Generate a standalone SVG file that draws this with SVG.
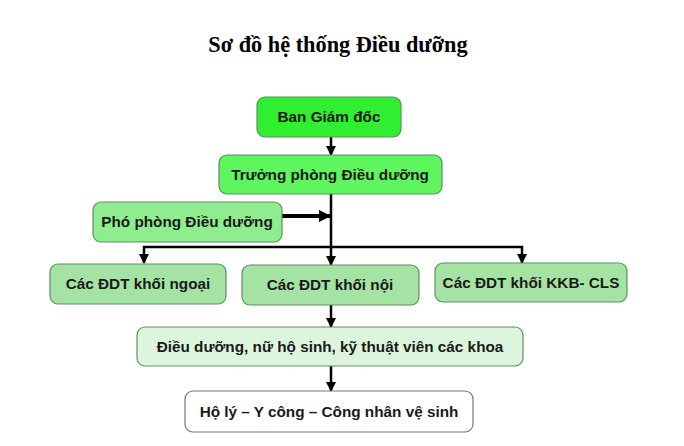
<svg xmlns="http://www.w3.org/2000/svg" width="684" height="446" viewBox="0 0 684 446">
<style>
.box{stroke:#5f8f5f;stroke-width:1.2}
.lbl{font-family:"Liberation Sans",Arial,sans-serif;font-weight:bold;font-size:15.3px;fill:#1a1a1a;text-anchor:middle}
.title{font-family:"Liberation Serif","Times New Roman",serif;font-weight:bold;font-size:22.3px;fill:#000;text-anchor:middle}
.con{fill:none;stroke:#000;stroke-width:2.5}
</style>
<defs>
<marker id="ah" markerUnits="userSpaceOnUse" markerWidth="10" markerHeight="10" refX="9" refY="5" orient="auto">
<path d="M0,0 L10,5 L0,10 z" fill="#000"/>
</marker>
<marker id="ahb" markerUnits="userSpaceOnUse" markerWidth="12" markerHeight="12" refX="11" refY="6" orient="auto">
<path d="M0,0 L12,6 L0,12 z" fill="#000"/>
</marker>
</defs>
<rect width="684" height="446" fill="#fff"/>
<text class="title" x="338" y="52">Sơ đồ hệ thống Điều dưỡng</text>
<g id="connectors">
<path class="con" d="M331,137 V155" marker-end="url(#ah)"/>
<path class="con" d="M331,194 V265" marker-end="url(#ah)"/>
<path class="con" style="stroke-width:4" d="M282,216 H330" marker-end="url(#ahb)"/>
<path class="con" d="M331,247 H144 V263" marker-end="url(#ah)"/>
<path class="con" d="M331,247 H522 V263" marker-end="url(#ah)"/>
<path class="con" d="M331,305 V327" marker-end="url(#ah)"/>
<path class="con" d="M331,366 V391" marker-end="url(#ah)"/>
</g>
<g id="ban-giam-doc">
<rect class="box" x="257" y="97" width="144" height="40" rx="8" fill="#30ef30"/>
<text class="lbl" x="329" y="122">Ban Giám đốc</text>
</g>
<g id="truong-phong">
<rect class="box" x="219" y="155" width="223" height="39" rx="8" fill="#5ef55e"/>
<text class="lbl" x="330" y="180">Trưởng phòng Điều dưỡng</text>
</g>
<g id="pho-phong">
<rect class="box" x="93" y="202" width="189" height="40" rx="8" fill="#8fed8f"/>
<text class="lbl" x="187" y="227">Phó phòng Điều dưỡng</text>
</g>
<g id="khoi-ngoai">
<rect class="box" x="50" y="264" width="176" height="40" rx="8" fill="#a5e3a5"/>
<text class="lbl" x="138" y="289">Các ĐDT khối ngoại</text>
</g>
<g id="khoi-noi">
<rect class="box" x="242" y="265" width="177" height="40" rx="8" fill="#a5e3a5"/>
<text class="lbl" x="330" y="290">Các ĐDT khối nội</text>
</g>
<g id="khoi-kkb">
<rect class="box" x="435" y="263" width="192" height="39" rx="8" fill="#a5e3a5"/>
<text class="lbl" x="531" y="288">Các ĐDT khối KKB- CLS</text>
</g>
<g id="dieu-duong">
<rect class="box" x="137" y="327" width="386" height="39" rx="8" fill="#dcf5dc"/>
<text class="lbl" x="330" y="352">Điều dưỡng, nữ hộ sinh, kỹ thuật viên các khoa</text>
</g>
<g id="ho-ly">
<rect class="box" x="185" y="391" width="288" height="41" rx="8" fill="#ffffff" style="stroke:#777"/>
<text class="lbl" x="329" y="417">Hộ lý – Y công – Công nhân vệ sinh</text>
</g>
</svg>
